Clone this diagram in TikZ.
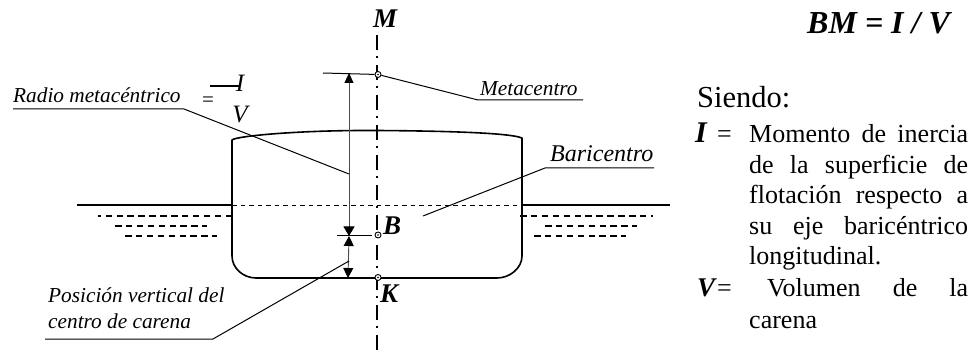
\documentclass[tikz,border=0pt]{standalone}
\usepackage{fontspec}
\setmainfont{Liberation Serif}
\usetikzlibrary{arrows.meta}
\tikzset{
  hull/.style={line width=1.6pt,black},
  thin line/.style={line width=1pt,black},
  dim/.style={line width=0.9pt,black!70},
  wave/.style={line width=1.3pt,dash pattern=on 6.5pt off 4.4pt},
  axisline/.style={line width=1.4pt,dash pattern=on 15pt off 6pt on 2pt off 7pt},
  pt/.style={circle,draw,fill=white,line width=0.9pt,minimum size=6pt,inner sep=0pt},
  lab/.style={anchor=base west,inner sep=0pt,font=\fontsize{21.3}{24}\selectfont\itshape},
  sym/.style={inner sep=0pt,font=\fontsize{27}{29}\selectfont\bfseries\itshape},
  body/.style={anchor=base west,inner sep=0pt,font=\fontsize{26}{28}\selectfont},
}
\newcommand{\jline}[3]{\node[body] (#1) at (749,#2) {\makebox[219pt][s]{#3}};}
\begin{document}
\begin{tikzpicture}[x=1pt,y=-1pt]
\useasboundingbox (0,0) rectangle (979,352);
% axis
\coordinate (axt) at (377,35);
\coordinate (axb) at (377,352);
\draw[axisline] (axt) -- (axb);
% hull
\coordinate (hl) at (232,205);
\coordinate (hr) at (522,205);
\draw[hull,line join=round] (232,140) .. controls (236,136) and (300,130) .. (377,130.5)
  .. controls (450,131) and (510,133) .. (522,138) -- (hr) -- (522,256)
  .. controls (522,268) and (510,278) .. (497,278) -- (256,278)
  .. controls (243,278) and (232,268) .. (232,256) -- (hl) -- cycle;
% water
\coordinate (wl) at (77,205);
\coordinate (wr) at (670,205);
\draw[line width=1.5pt] (wl) -- (hl);
\draw[line width=1.5pt] (hr) -- (wr);
\draw[line width=0.9pt,dash pattern=on 4.5pt off 4pt] (hl) -- (hr);
\draw[wave] (232,216) -- (98,216);
\draw[wave] (115,226) -- (207,226);
\draw[wave] (125,236) -- (217,236);
\draw[wave] (520,216) -- (653,216);
\draw[wave] (545,226) -- (637,226);
\draw[wave] (534,236) -- (626,236);
% points
\node[pt] (M) at (378,74.5) {};
\node[pt] (B) at (378,235) {};
\node[pt] (K) at (378,277.5) {};
\fill (M.center) circle (0.8) (B.center) circle (0.8) (K.center) circle (0.8);
% dimension lines
\coordinate (dt) at (349,73);
\coordinate (dm) at (349,236);
\coordinate (db) at (348,278);
\draw[thin line] (323,73) -- (M);
\draw[thin line] (337,236) -- (372,236);
\draw[dim,{Triangle[length=10pt,width=9pt,black]}-{Triangle[length=9.5pt,width=11pt,black]}] (dt) -- (dm);
\draw[dim,{Triangle[length=10pt,width=10pt,black]}-{Triangle[length=10pt,width=10pt,black]}] (dm) -- (db);
% leaders
\node[lab] (tradio) at (13,103) {Radio metacéntrico};
\coordinate (r1) at (13,109); \coordinate (r2) at (184,109); \coordinate (r3) at (349,174);
\draw[thin line] (r1) -- (r2) -- (r3);
\node[lab] (tmeta) at (480,96) {Metacentro};
\coordinate (m2) at (478,100); \coordinate (m3) at (583,100);
\draw[thin line] (M) -- (m2) -- (m3);
\node[lab,font=\fontsize{24}{26}\selectfont\itshape] (tbari) at (550,162) {Baricentro};
\coordinate (b1) at (654,168); \coordinate (b2) at (545,168); \coordinate (b3) at (423,216);
\draw[thin line] (b1) -- (b2) -- (b3);
\node[lab] (tpos1) at (48,303) {Posición vertical del};
\node[lab] (tpos2) at (48,329) {centro de carena};
\coordinate (p1) at (45,339); \coordinate (p2) at (213,339); \coordinate (p3) at (349,261);
\draw[thin line] (p1) -- (p2) -- (p3);
% fraction
\node[inner sep=0pt,font=\fontsize{21}{24}\selectfont] (feq) at (208,102) {=};
\node[lab,anchor=base] (fI) at (240,92) {\fontsize{25}{26}\selectfont I};
\node[lab,anchor=base] (fV) at (240,123) {\fontsize{25}{26}\selectfont V};
\coordinate (fa) at (210,86); \coordinate (fb) at (240,86);
\draw[line width=1.2pt] (fa) -- (fb);
% letters
\node[sym,anchor=base] (lM) at (385,28) {M};
\node[sym,anchor=base] (lB) at (392,235) {B};
\node[sym,anchor=base] (lK) at (389,303) {K};
% right column
\node[anchor=base west,inner sep=0pt,font=\fontsize{32}{34}\selectfont\bfseries\itshape] (bm) at (807,34) {BM = I / V};
\node[anchor=base west,inner sep=0pt,font=\fontsize{30.5}{32}\selectfont] (siendo) at (697,108) {Siendo:};
\node[sym,anchor=base west,font=\fontsize{30}{32}\selectfont\bfseries\itshape] (sI) at (695,143) {I};
\node[body] (eqI) at (717,143) {=};
\jline{l1}{143}{Momento de inercia}
\jline{l2}{174}{de la superficie de}
\jline{l3}{204}{flotación respecto a}
\jline{l4}{235}{su eje baricéntrico}
\node[body] (l5) at (749,265) {longitudinal.};
\node[sym,anchor=base west] (sV) at (697,297) {V};
\node[body] (eqV) at (717,297) {=};
\node[body] (l6) at (767,297) {\makebox[201pt][s]{Volumen de la}};
\node[body] (l7) at (749,328) {carena};
\end{tikzpicture}
\end{document}
